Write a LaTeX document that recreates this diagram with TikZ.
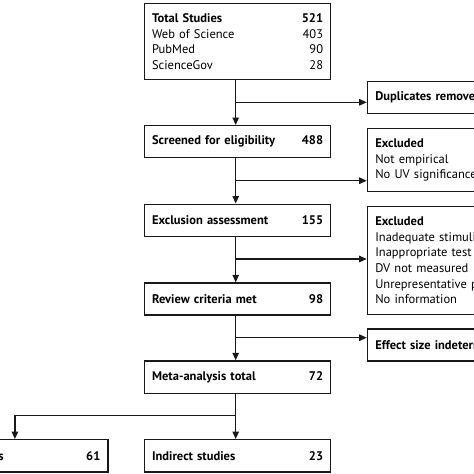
\documentclass[tikz,border=0pt]{standalone}
\usepackage{fontspec}
\setmainfont{PT Sans}
\usetikzlibrary{arrows.meta}
\begin{document}
\begin{tikzpicture}[x=1pt,y=-1pt,
  box/.style={draw=black!90, line width=1.2pt, rectangle, anchor=north west, inner xsep=7.5pt, inner ysep=0pt, align=left, font=\fontsize{12.5}{15.6}\selectfont},
  conn/.style={draw=black!90, line width=1.2pt},
  arr/.style={conn, -{Triangle[length=7.5pt,width=6.5pt]}}]
\useasboundingbox (0,0) rectangle (474,474);
\clip (0,0) rectangle (474,474);
% main column
\node[box, minimum width=186pt, minimum height=76pt, text width=171pt] (total) at (144,3)
  {\textbf{Total Studies}\hfill\textbf{521}\\Web of Science\hfill403\\PubMed\hfill90\\ScienceGov\hfill28};
\node[box, minimum width=186pt, minimum height=32pt, text width=171pt] (screen) at (144,125)
  {\textbf{Screened for eligibility}\hfill\textbf{488}};
\node[box, minimum width=186pt, minimum height=32.5pt, text width=171pt] (excl) at (144,203.5)
  {\textbf{Exclusion assessment}\hfill\textbf{155}};
\node[box, minimum width=186pt, minimum height=32pt, text width=171pt] (review) at (144,282.3)
  {\textbf{Review criteria met}\hfill\textbf{98}};
\node[box, minimum width=186pt, minimum height=32.4pt, text width=171pt] (meta) at (144,360.3)
  {\textbf{Meta-analysis total}\hfill\textbf{72}};
\node[box, minimum width=186pt, minimum height=32.3pt, text width=171pt] (indirect) at (144,439)
  {\textbf{Indirect studies}\hfill\textbf{23}};
\node[box, minimum width=186pt, minimum height=32.3pt, text width=171pt] (direct) at (-78.7,439)
  {\textbf{Direct studies}\hfill\textbf{61}};
% right column
\node[box, minimum width=186pt, minimum height=32pt, text width=171pt, inner xsep=8pt] (dup) at (366.7,81)
  {\textbf{Duplicates removed}};
\node[box, minimum width=186pt, minimum height=63pt, text width=171pt, inner xsep=8pt] (ex1) at (366.7,128)
  {\textbf{Excluded}\\Not empirical\\No UV significance};
\node[box, minimum width=186pt, minimum height=108pt, text width=171pt, inner xsep=8pt] (ex2) at (366.7,205.7)
  {\textbf{Excluded}\\Inadequate stimuli\\Inappropriate test\\DV not measured\\Unrepresentative population\\No information};
\node[box, minimum width=186pt, minimum height=32pt, text width=171pt, inner xsep=8pt] (eff) at (366.7,328.3)
  {\textbf{Effect size indeterminate}};
% connectors
\coordinate (j1) at (235.7,102.3);
\coordinate (j2) at (235.7,180.7);
\coordinate (j3) at (235.7,259);
\coordinate (j4) at (235.7,337.7);
\coordinate (j5) at (235.7,415.7);
\draw[arr] (total.south -| j1) -- (screen.north -| j1);
\draw[arr] (j1) -- (j1 -| dup.west);
\draw[arr] (screen.south -| j2) -- (excl.north -| j2);
\draw[arr] (j2) -- (j2 -| ex1.west);
\draw[arr] (excl.south -| j3) -- (review.north -| j3);
\draw[arr] (j3) -- (j3 -| ex2.west);
\draw[arr] (review.south -| j4) -- (meta.north -| j4);
\draw[arr] (j4) -- (j4 -| eff.west);
\draw[arr] (meta.south -| j5) -- (indirect.north -| j5);
\draw[arr] (j5) -| (direct.north);
\end{tikzpicture}
\end{document}
